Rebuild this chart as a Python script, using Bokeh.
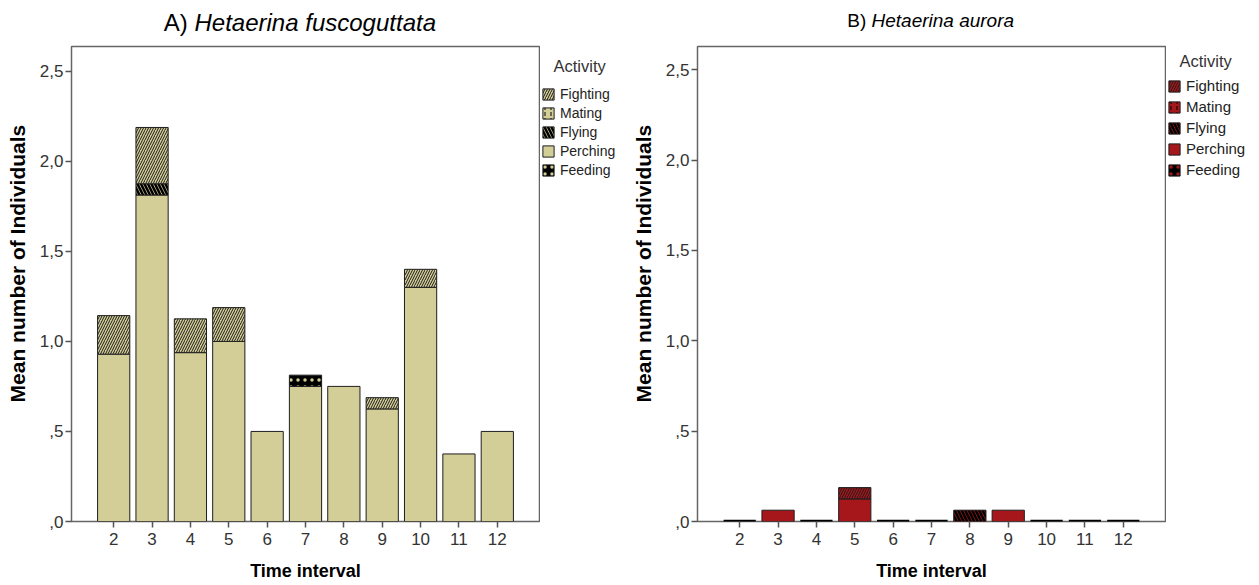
from bokeh.plotting import figure
from bokeh.models import Range1d, FixedTicker, Legend, LegendItem
from bokeh.layouts import row, column
from bokeh.core.properties import value
from bokeh.embed import file_html
from bokeh.resources import INLINE

# ---------------- data ----------------
intervals = [2, 3, 4, 5, 6, 7, 8, 9, 10, 11, 12]
stack_order = ["Perching", "Feeding", "Flying", "Mating", "Fighting"]
legend_order = ["Fighting", "Mating", "Flying", "Perching", "Feeding"]

a_perching = [0.929, 1.8125, 0.9375, 1.0, 0.5, 0.75, 0.75, 0.625, 1.3, 0.375, 0.5]
a_feeding = [0, 0, 0, 0, 0, 0.0625, 0, 0, 0, 0, 0]
a_flying = [0, 0.0625, 0, 0, 0, 0, 0, 0, 0, 0, 0]
a_mating = [0, 0, 0, 0, 0, 0, 0, 0, 0, 0, 0]
a_fighting = [0.214, 0.3125, 0.1875, 0.1875, 0, 0, 0, 0.0625, 0.1, 0, 0]

b_perching = [0, 0.0625, 0, 0.125, 0, 0, 0, 0.0625, 0, 0, 0]
b_feeding = [0, 0, 0, 0, 0, 0, 0, 0, 0, 0, 0]
b_flying = [0, 0, 0, 0, 0, 0, 0.0625, 0, 0, 0, 0]
b_mating = [0, 0, 0, 0, 0, 0, 0, 0, 0, 0, 0]
b_fighting = [0, 0, 0, 0.0625, 0, 0, 0, 0, 0, 0, 0]

y_ticks = [0, 0.5, 1.0, 1.5, 2.0, 2.5]
y_tick_labels = [",0", ",5", "1,0", "1,5", "2,0", "2,5"]

title_a = ("A) ", "Hetaerina fuscoguttata")
title_b = ("B) ", "Hetaerina aurora")
legend_title = "Activity"
x_title = "Time interval"
y_title = "Mean number of Individuals"

KHAKI = "#D3CE98"
RED = "#A6171C"
FONT = "Liberation Sans"
H = 545          # height of the chart row (below the title strip)
TOP, BOTTOM = 6, 64
FRAME_H = H - TOP - BOTTOM


def styles(base):
    return {
        "Perching": dict(fill_color=base),
        "Feeding": dict(fill_color="black", hatch_pattern="dot", hatch_color=base,
                        hatch_scale=7, hatch_weight=3),
        "Flying": dict(fill_color=base, hatch_pattern="\\", hatch_color="black",
                       hatch_scale=7, hatch_weight=2.5),
        "Mating": dict(fill_color=base, hatch_pattern=":", hatch_color="black",
                       hatch_scale=6, hatch_weight=1),
        "Fighting": dict(fill_color=base, hatch_pattern="/", hatch_color="#1a1a1a",
                         hatch_scale=5, hatch_weight=1),
    }


def make_panel(series, base, ytop):
    p = figure(width=540, height=H, output_backend="svg", toolbar_location=None,
               x_range=Range1d(0.9, 13.1), y_range=Range1d(0, ytop),
               min_border_left=71, min_border_right=1,
               min_border_top=TOP, min_border_bottom=BOTTOM)
    p.xgrid.visible = False
    p.ygrid.visible = False
    p.outline_line_color = "#666666"
    p.outline_line_width = 1.5
    p.border_fill_color = "white"

    st = styles(base)
    bottoms = [0.0] * len(intervals)
    for name in stack_order:
        vals = series[name]
        tops = [b + v for b, v in zip(bottoms, vals)]
        xs = [x for x, v in zip(intervals, vals) if v > 0]
        bs = [b for b, v in zip(bottoms, vals) if v > 0]
        ts = [t for t, v in zip(tops, vals) if v > 0]
        p.vbar(x=xs, bottom=bs, top=ts, width=0.84,
               line_color="#1e1e1e", line_width=1, **st[name])
        bottoms = tops
    # empty categories are drawn as a flat bar on the baseline
    zx = [x for x, t in zip(intervals, bottoms) if t == 0]
    p.vbar(x=zx, bottom=[0] * len(zx), top=[0] * len(zx), width=0.84,
           line_color="black", line_width=3.5, fill_color=None)

    for ax in (p.xaxis[0], p.yaxis[0]):
        ax.axis_line_color = None
        ax.major_tick_line_color = "#555555"
        ax.major_tick_line_width = 1.5
        ax.major_tick_out = 6
        ax.major_tick_in = 0
        ax.minor_tick_line_color = None
        ax.major_label_text_font = FONT
        ax.major_label_text_font_size = "17px"
        ax.major_label_text_color = "#333333"
        ax.axis_label_text_font = FONT
        ax.axis_label_text_font_style = "bold"
        ax.axis_label_text_color = "black"

    p.xaxis.ticker = FixedTicker(ticks=intervals)
    p.xaxis.axis_label = x_title
    p.xaxis.axis_label_text_font_size = "18px"
    p.xaxis.major_label_standoff = 5
    p.xaxis.axis_label_standoff = 13

    p.yaxis.ticker = FixedTicker(ticks=y_ticks)
    p.yaxis.major_label_overrides = {t: l for t, l in zip(y_ticks, y_tick_labels)}
    p.yaxis.axis_label = "\u00a0" * 7 + y_title
    p.yaxis.axis_label_text_font_size = "21px"
    p.yaxis.major_label_standoff = 2
    p.yaxis.axis_label_standoff = 8
    return p


def make_legend(base, width, title_xy, leg_vy, spacing, label_size):
    q = figure(width=width, height=H, output_backend="svg", toolbar_location=None,
               x_range=Range1d(0, width), y_range=Range1d(FRAME_H, 0),
               min_border_left=0, min_border_right=0,
               min_border_top=TOP, min_border_bottom=BOTTOM,
               x_axis_type=None, y_axis_type=None)
    q.grid.visible = False
    q.outline_line_color = None
    q.border_fill_color = "white"
    st = styles(base)
    nan = float("nan")
    rends = {}
    for name in stack_order:
        rends[name] = q.vbar(x=[nan], bottom=[nan], top=[nan], width=1,
                             line_color="#1e1e1e", line_width=1, **st[name])
    q.text(x=[title_xy[0]], y=[title_xy[1]], text=[legend_title],
           text_font=value(FONT), text_font_size="16.5px", text_color="#333333",
           text_align="left", text_baseline="middle")
    leg = Legend(items=[LegendItem(label=n, renderers=[rends[n]]) for n in legend_order],
                 location=(1, leg_vy), padding=0, margin=0,
                 border_line_color=None, background_fill_alpha=0,
                 glyph_width=14, glyph_height=14, label_height=14,
                 label_standoff=5, spacing=spacing,
                 label_text_font=FONT, label_text_font_size=label_size,
                 label_text_color="#222222")
    q.add_layout(leg, "center")
    return q


def make_titles():
    t = figure(width=1259, height=40, output_backend="svg", toolbar_location=None,
               x_range=Range1d(0, 1259), y_range=Range1d(40, 0),
               min_border=0, x_axis_type=None, y_axis_type=None)
    t.grid.visible = False
    t.outline_line_color = None
    for (plain, ital), xpos, ypos, size in ((title_a, 194, 22, "24px"),
                                            (title_b, 871, 20, "19px")):
        t.text(x=[xpos], y=[ypos], text=[plain], text_font=value(FONT),
               text_font_size=size, text_align="right", text_baseline="middle",
               text_color="black")
        t.text(x=[xpos], y=[ypos], text=[ital], text_font=value(FONT),
               text_font_size=size, text_font_style="italic", text_align="left",
               text_baseline="middle", text_color="black")
    return t


series_a = {"Perching": a_perching, "Feeding": a_feeding, "Flying": a_flying,
            "Mating": a_mating, "Fighting": a_fighting}
series_b = {"Perching": b_perching, "Feeding": b_feeding, "Flying": b_flying,
            "Mating": b_mating, "Fighting": b_fighting}

pa = make_panel(series_a, KHAKI, 2.637)
la = make_legend(KHAKI, 86, (13, 19), 343, 3, "14px")
pb = make_panel(series_b, RED, 2.629)
lb = make_legend(RED, 93, (13, 14), 343, 4, "15px")

layout = column(make_titles(), row(pa, la, pb, lb))
open("out.html", "w").write(file_html(layout, INLINE))
